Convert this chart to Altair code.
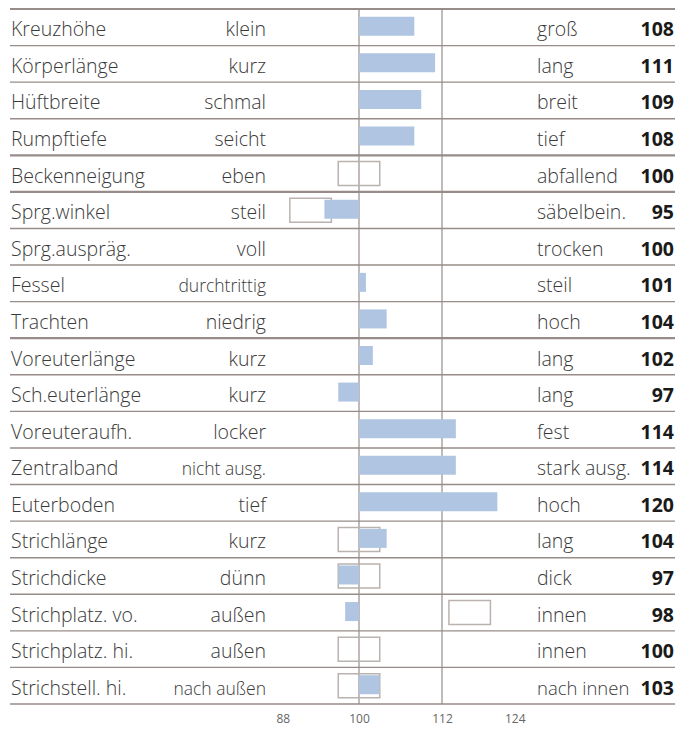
import altair as alt
import pandas as pd

traits = ["Kreuzhöhe", "Körperlänge", "Hüftbreite", "Rumpftiefe", "Beckenneigung",
          "Sprg.winkel", "Sprg.auspräg.", "Fessel", "Trachten", "Voreuterlänge",
          "Sch.euterlänge", "Voreuteraufh.", "Zentralband", "Euterboden", "Strichlänge",
          "Strichdicke", "Strichplatz. vo.", "Strichplatz. hi.", "Strichstell. hi."]
left_labels = ["klein", "kurz", "schmal", "seicht", "eben", "steil", "voll", "durchtrittig",
               "niedrig", "kurz", "kurz", "locker", "nicht ausg.", "tief", "kurz", "dünn",
               "außen", "außen", "nach außen"]
right_labels = ["groß", "lang", "breit", "tief", "abfallend", "säbelbein.", "trocken", "steil",
                "hoch", "lang", "lang", "fest", "stark ausg.", "hoch", "lang", "dick",
                "innen", "innen", "nach innen"]
values = [108, 111, 109, 108, 100, 95, 100, 101, 104, 102, 97, 114, 114, 120, 104, 97, 98, 100, 103]
small_left = ["durchtrittig", "nicht ausg.", "nach außen"]

box_traits = ["Beckenneigung", "Sprg.winkel", "Strichlänge", "Strichdicke",
              "Strichplatz. vo.", "Strichplatz. hi.", "Strichstell. hi."]
box_lo = [97, 90, 97, 97, 113, 97, 97]
box_hi = [103, 96, 103, 103, 119, 103, 103]

group_ends = ["Rumpftiefe", "Beckenneigung", "Trachten"]
ref_lines = [100, 112]
tick_values = [88, 100, 112, 124]

W = 665
ROW = 36.6
H = round(ROW * len(traits))
FONT = "Open Sans"
LINE = "#978c89"
TXT = "#3a3a3a"
FS = 19.5
DY = 9

df = pd.DataFrame({"trait": traits, "left": left_labels, "right": right_labels,
                   "value": values, "base": [100] * len(traits)})
df["lsize"] = [17.5 if l in small_left else FS for l in left_labels]
df["rsize"] = [18.5 if r == "nach innen" else FS for r in right_labels]
df["sw"] = [2.2 if t in group_ends else 1.4 for t in traits]
boxes = pd.DataFrame({"trait": box_traits, "lo": box_lo, "hi": box_hi})
refs = pd.DataFrame({"v": ref_lines})

xscale = alt.Scale(domain=[88, 124], range=[266, 515])
xaxis = alt.Axis(values=tick_values, domain=False, ticks=False, grid=False, title=None,
                 labelColor="#666666", labelFontSize=12, labelFont=FONT,
                 labelFontWeight=400, labelPadding=9)
yenc = alt.Y("trait:N", sort=traits, axis=None,
             scale=alt.Scale(paddingInner=0, paddingOuter=0))

base = alt.Chart(df)

row_rules = base.mark_rule(color=LINE).encode(
    y=alt.Y("trait:N", sort=traits, axis=None, bandPosition=1,
            scale=alt.Scale(paddingInner=0, paddingOuter=0)),
    x=alt.value(0), x2=alt.value(W),
    strokeWidth=alt.StrokeWidth("sw:Q", scale=None),
)
top_rule = base.mark_rule(color=LINE, strokeWidth=1.4).encode(
    y=alt.value(0), x=alt.value(0), x2=alt.value(W)
)
vrules = alt.Chart(refs).mark_rule(color=LINE, strokeWidth=1.2).encode(
    x=alt.X("v:Q", scale=xscale, axis=xaxis)
)
box_layer = alt.Chart(boxes).mark_bar(height=24, fill="white", fillOpacity=0,
                                      stroke="#bab2af", strokeWidth=1.5).encode(
    x=alt.X("lo:Q", scale=xscale, axis=xaxis), x2="hi:Q", y=yenc
)
bars = base.mark_bar(height=19, color="#afc5e1", yOffset=-1).encode(
    x=alt.X("value:Q", scale=xscale, axis=xaxis), x2="base:Q", y=yenc
)
t_trait = base.mark_text(align="left", baseline="alphabetic", font=FONT, fontSize=FS,
                         fontWeight=300, color=TXT, dy=DY).encode(
    x=alt.value(1), y=yenc, text="trait:N")
t_left = base.mark_text(align="right", baseline="alphabetic", font=FONT, fontWeight=300,
                        color=TXT, dy=DY).encode(
    x=alt.value(256), y=yenc, text="left:N",
    size=alt.Size("lsize:Q", scale=None))
t_right = base.mark_text(align="left", baseline="alphabetic", font=FONT,
                         fontWeight=300, color=TXT, dy=DY).encode(
    x=alt.value(527), y=yenc, text="right:N",
    size=alt.Size("rsize:Q", scale=None))
t_val = base.mark_text(align="right", baseline="alphabetic", font=FONT, fontSize=FS,
                       fontWeight=700, color="#1a1a1a", dy=DY).encode(
    x=alt.value(664), y=yenc, text="value:Q")

chart = alt.layer(top_rule, row_rules, vrules, box_layer, bars,
                  t_trait, t_left, t_right, t_val).properties(
    width=W, height=H,
    padding={"left": 0, "top": 0, "right": 0, "bottom": 3},
).configure_view(stroke=None)

chart.save("out.html", embed_options={"renderer": "svg", "actions": False})
